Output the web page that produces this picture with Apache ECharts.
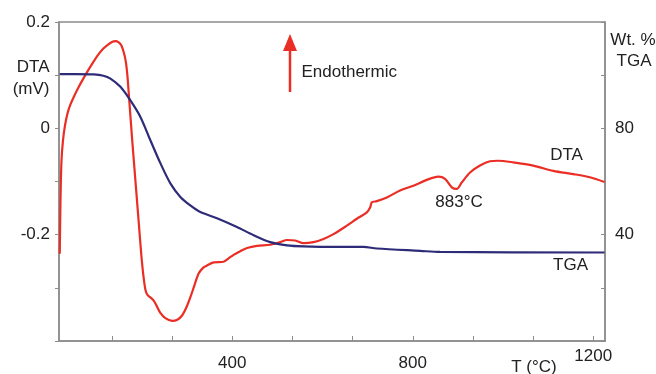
<!DOCTYPE html>
<html>
<head>
<meta charset="utf-8">
<script src="https://cdn.jsdelivr.net/npm/echarts@6/dist/echarts.min.js"></script>
<style>
html,body{margin:0;padding:0;background:#fff;}
#chart{width:656px;height:374px;}
</style>
</head>
<body>
<div id="chart"></div>
<script>
// ---- Data ----
var dtaSeries = [
 [17.7,-0.236],[19.3,-0.136],[21.5,-0.061],[24.8,-0.023],[29.2,0.005],[34.8,0.028],[41.4,0.045],[50.3,0.062],[59.1,0.077],[70.2,0.094],[81.2,0.110],[92.3,0.125],[103.4,0.139],[114.4,0.150],[125.5,0.158],[134.4,0.163],[141.0,0.164],[147.6,0.162],[154.3,0.156],[159.8,0.142],[164.3,0.124],[167.6,0.099],[170.9,0.062],[174.2,0.024],[177.5,-0.014],[180.9,-0.051],[185.3,-0.098],[189.7,-0.145],[194.1,-0.192],[198.5,-0.239],[203.0,-0.277],[207.4,-0.303],[211.8,-0.313],[218.5,-0.318],[225.8,-0.324],[231.8,-0.333],[240.6,-0.347],[251.7,-0.357],[266.5,-0.362],[278.3,-0.360],[288.7,-0.352],[298.2,-0.337],[307.0,-0.318],[315.9,-0.296],[325.4,-0.273],[335.8,-0.262],[344.0,-0.258],[358.6,-0.252],[380.8,-0.251],[391.2,-0.245],[402.9,-0.238],[417.7,-0.231],[432.6,-0.225],[454.7,-0.221],[484.1,-0.219],[506.3,-0.214],[521.1,-0.210],[539.5,-0.211],[557.9,-0.216],[580.0,-0.214],[602.1,-0.208],[624.3,-0.199],[653.9,-0.183],[676.1,-0.170],[698.2,-0.158],[705.5,-0.149],[709.3,-0.139],[720.3,-0.137],[742.5,-0.130],[771.9,-0.117],[801.4,-0.108],[831.0,-0.097],[856.7,-0.091],[871.5,-0.095],[886.4,-0.111],[897.4,-0.114],[908.5,-0.102],[926.9,-0.083],[949.0,-0.070],[971.1,-0.062],[989.5,-0.061],[1022.7,-0.064],[1067.0,-0.070],[1111.3,-0.080],[1155.6,-0.086],[1192.5,-0.092],[1225,-0.101]
];
var tgaSeries = [
 [17.7,100.4],[52.5,100.4],[93,100.3],[114.4,99.8],[130,98.7],[152.1,95.6],[174.2,90.5],[196.4,84.3],[218.5,75.5],[240.6,66.9],[262.8,59.3],[284.9,54.2],[307.0,51.0],[329.2,48.5],[366.1,46.2],[410.4,42.9],[447.2,39.8],[484.1,37.2],[521.1,36.0],[557.9,35.6],[631.8,35.4],[690.7,35.4],[720.3,34.8],[816.2,33.9],[860.5,33.5],[1225,33.3]
];
var xTickValues = [133.33,266.67,400,533.33,666.67,800,933.33,1066.67,1200];
var xLabelValues = [400,800,1200];
var dtaLabelValues = [-0.2,0,0.2];
var tgaLabelValues = [40,80];

var FONT = '"Liberation Sans", Arial, Helvetica, sans-serif';
var TXT = '#222';
var RED = '#ea2e25';
var BLUE = '#2e2b78';
var AXIS = '#8c8c8c';

var chart = echarts.init(document.getElementById('chart'), null, {renderer:'canvas'});
var option = {
  backgroundColor:'#fff',
  animation:false,
  grid:{left:59, right:51, top:22, bottom:33, show:true, borderColor:AXIS, borderWidth:1.5},
  xAxis:{
    type:'value', min:16, max:1226,
    axisLine:{show:true, onZero:false, lineStyle:{color:AXIS, width:1.5}},
    axisTick:{show:true, inside:true, length:5, customValues:xTickValues, lineStyle:{color:AXIS}},
    splitLine:{show:false},
    axisLabel:{
      customValues:xLabelValues, margin:7, fontFamily:FONT, fontSize:17, color:TXT,
      formatter:function(v){ return v===1200 ? '{b|'+v+'}' : '{a|'+v+'}'; },
      rich:{a:{fontFamily:FONT,fontSize:17,color:TXT,lineHeight:30}, b:{fontFamily:FONT,fontSize:17,color:TXT,lineHeight:17}}
    }
  },
  yAxis:[{
    type:'value', min:-0.4, max:0.2, interval:0.1, position:'left',
    axisLine:{show:true, onZero:false, lineStyle:{color:AXIS, width:1.5}},
    axisTick:{show:true, length:4, lineStyle:{color:AXIS}},
    splitLine:{show:false},
    axisLabel:{customValues:dtaLabelValues, margin:9, fontFamily:FONT, fontSize:17, color:TXT,
      formatter:function(v){ return v===0 ? '0' : String(Math.round(v*10)/10); }}
  },{
    type:'value', min:0, max:120, interval:20, position:'right',
    axisLine:{show:true, onZero:false, lineStyle:{color:AXIS, width:1.5}},
    axisTick:{show:true, inside:true, length:4, lineStyle:{color:AXIS}},
    splitLine:{show:false},
    axisLabel:{customValues:tgaLabelValues, margin:10, fontFamily:FONT, fontSize:17, color:TXT}
  }],
  series:[{
    name:'DTA', type:'line', data:dtaSeries, yAxisIndex:0, smooth:0.3, showSymbol:false,
    lineStyle:{color:RED, width:2.2}, itemStyle:{color:RED}
  },{
    name:'TGA', type:'line', data:tgaSeries, yAxisIndex:1, smooth:0.3, showSymbol:false,
    lineStyle:{color:BLUE, width:2.2}, itemStyle:{color:BLUE}
  }],
  graphic:[
    {type:'text', x:49.5, y:67, style:{text:'DTA', font:'17px '+FONT, fill:TXT, align:'right', verticalAlign:'middle'}},
    {type:'text', x:49.5, y:89, style:{text:'(mV)', font:'17px '+FONT, fill:TXT, align:'right', verticalAlign:'middle'}},
    {type:'text', x:633, y:40, style:{text:'Wt. %', font:'17px '+FONT, fill:TXT, align:'center', verticalAlign:'middle'}},
    {type:'text', x:634, y:61, style:{text:'TGA', font:'17px '+FONT, fill:TXT, align:'center', verticalAlign:'middle'}},
    {type:'text', x:534, y:367, style:{text:'T (°C)', font:'17px '+FONT, fill:TXT, align:'center', verticalAlign:'middle'}},
    {type:'text', x:301.5, y:72, style:{text:'Endothermic', font:'17px '+FONT, fill:TXT, align:'left', verticalAlign:'middle'}},
    {type:'text', x:459, y:202, style:{text:'883°C', font:'17px '+FONT, fill:TXT, align:'center', verticalAlign:'middle'}},
    {type:'text', x:566.5, y:155, style:{text:'DTA', font:'17px '+FONT, fill:TXT, align:'center', verticalAlign:'middle'}},
    {type:'text', x:570.5, y:265, style:{text:'TGA', font:'17px '+FONT, fill:TXT, align:'center', verticalAlign:'middle'}},
    {type:'line', shape:{x1:290, y1:48, x2:290, y2:92}, style:{stroke:RED, lineWidth:2.5}},
    {type:'polygon', shape:{points:[[283,51],[297,51],[290,34]]}, style:{fill:RED}}
  ]
};
chart.setOption(option);
</script>
</body>
</html>
